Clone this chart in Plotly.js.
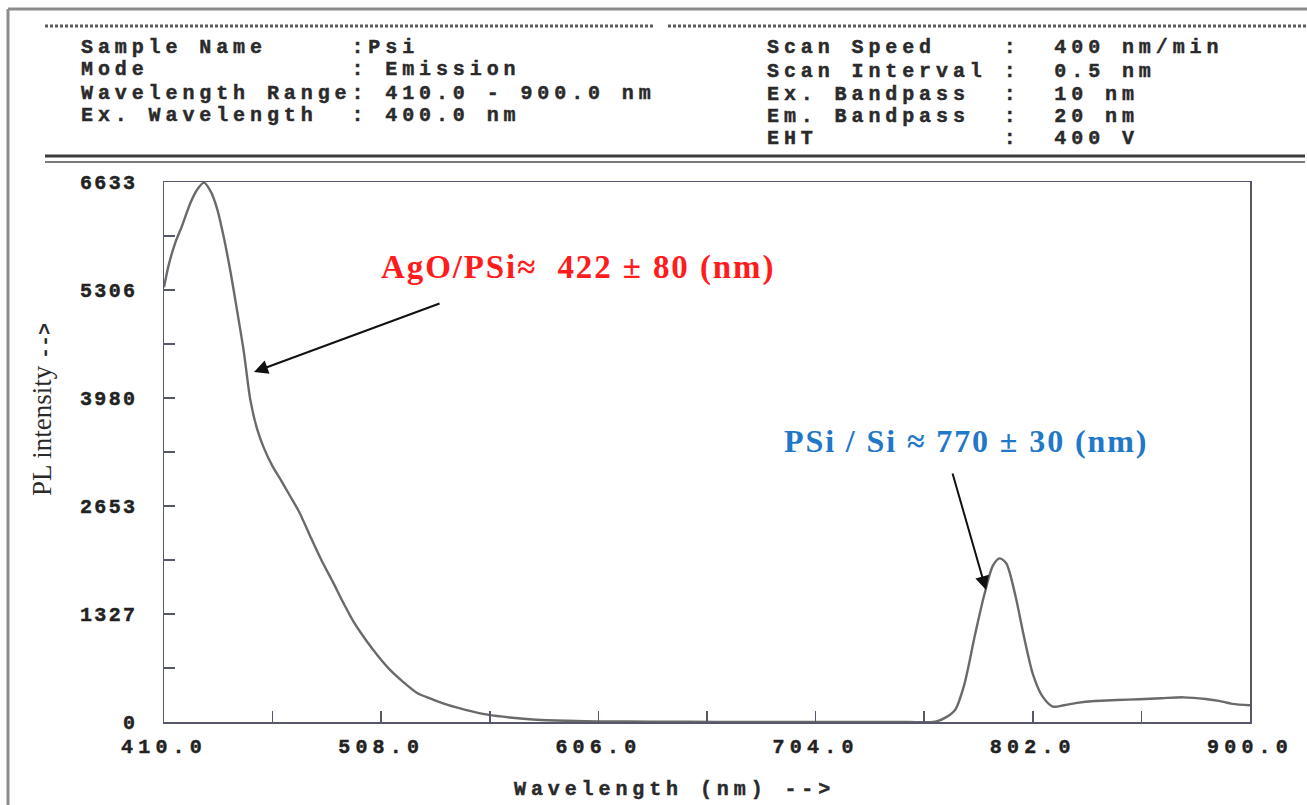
<!DOCTYPE html>
<html>
<head>
<meta charset="utf-8">
<script src="https://cdn.plot.ly/plotly-3.0.1.min.js"></script>
<style>
html, body { margin: 0; padding: 0; background: #ffffff; }
#chart { width: 1307px; height: 805px; }
.xtick text { letter-spacing: 5.2px; stroke: #222; stroke-width: 0.45px; }
.ytick text { letter-spacing: 2.4px; stroke: #222; stroke-width: 0.45px; }
text.annotation-text[style*="Liberation Mono"] { letter-spacing: 4.9px; stroke: #2a2a2a; stroke-width: 0.45px; }
text.annotation-text[style*="Times New Roman"] { letter-spacing: 1.9px; }
</style>
</head>
<body>
<div id="chart"></div>
<script>
// ---- data ----
const wavelength = [410, 412, 415, 418, 422, 425, 428, 431, 434, 437, 440, 443, 446, 449, 452, 455, 459, 463, 467, 471,
  476, 481, 486, 491, 496, 501, 506, 512, 518, 524, 530, 538, 546, 556, 566, 578, 592, 606, 630, 660,
  700, 740, 758, 763, 767, 771, 776, 780, 784, 787, 790, 794, 798, 802, 806, 811, 816, 822, 830, 840,
  850, 860, 870, 880, 886, 892, 900];
const intensity = [5340, 5600, 5880, 6084, 6380, 6540, 6625, 6520, 6300, 5950, 5530, 5050, 4550, 3950, 3600, 3370, 3140, 2960, 2770, 2580,
  2280, 1990, 1730, 1460, 1210, 1010, 830, 640, 490, 360, 290, 210, 150, 90, 55, 28, 15, 8, 4, 2,
  2, 2, 5, 60, 150, 450, 1080, 1550, 1920, 2010, 1950, 1570, 1050, 590, 330, 190, 205, 235, 258, 270,
  280, 292, 303, 283, 260, 222, 205];

const yTickVals = [0, 1326.6, 2653.2, 3979.8, 5306.4, 6633];
const yTickText = ['0', '1327', '2653', '3980', '5306', '6633'];
const xTickVals = [410, 508, 606, 704, 802, 900];
const xTickText = ['410.0', '508.0', '606.0', '704.0', '802.0', '900.0'];

const headerLeft = ['Sample Name     :Psi', 'Mode            : Emission', 'Wavelength Range: 410.0 - 900.0 nm', 'Ex. Wavelength  : 400.0 nm'];
const headerRight = ['Scan Speed    :  400 nm/min', 'Scan Interval :  0.5 nm', 'Ex. Bandpass  :  10 nm', 'Em. Bandpass  :  20 nm', 'EHT           :  400 V'];

const xTitle = 'Wavelength (nm) -->';
const yTitle = 'PL intensity';
const labelAgO = 'AgO/PSi\u2248  422 \u00b1 80 (nm)';
const labelPSi = 'PSi / Si \u2248 770 \u00b1 30 (nm)';

// ---- layout helpers (pixel -> paper) ----
const W = 1307, H = 805;
const L = 164, R = 1250, T = 182, B = 722;
const px = v => (v - L) / (R - L);
const py = v => (B - v) / (B - T);
const nb = s => s.replace(/ /g, '\u00a0').replace(/>/g, '&gt;');

const monoFont = { family: 'Liberation Mono, monospace', size: 20, weight: 'bold', color: '#2a2a2a' };

const annotations = [];
const leftRows = [48, 70, 93, 115];
headerLeft.forEach((t, i) => annotations.push({
  xref: 'paper', yref: 'paper', x: px(79), y: py(leftRows[i]), xanchor: 'left', yanchor: 'middle',
  text: nb(t), showarrow: false, font: monoFont, align: 'left'
}));
const rightRows = [48, 71, 94, 117, 139];
headerRight.forEach((t, i) => annotations.push({
  xref: 'paper', yref: 'paper', x: px(765), y: py(rightRows[i]), xanchor: 'left', yanchor: 'middle',
  text: nb(t), showarrow: false, font: monoFont, align: 'left'
}));
// x title
annotations.push({
  xref: 'paper', yref: 'paper', x: px(512), y: py(789), xanchor: 'left', yanchor: 'middle',
  text: nb(xTitle), showarrow: false, font: monoFont
});
// y title
annotations.push({
  xref: 'paper', yref: 'paper', x: px(42), y: py(410), xanchor: 'center', yanchor: 'middle',
  textangle: -90, showarrow: false,
  text: yTitle + ' <span style="font-family:Liberation Mono;font-weight:bold;font-size:20px">--&gt;</span>',
  font: { family: 'Liberation Serif, serif', size: 27, color: '#2a2a2a' }
});
// peak labels
const labelFamily = 'Liberation Serif, Times New Roman, serif';
annotations.push({
  xref: 'paper', yref: 'paper', x: px(578), y: py(267), xanchor: 'center', yanchor: 'middle',
  text: labelAgO, showarrow: false,
  font: { family: labelFamily, size: 33, weight: 'bold', color: '#ff1c1c' }
});
annotations.push({
  xref: 'paper', yref: 'paper', x: px(966), y: py(441), xanchor: 'center', yanchor: 'middle',
  text: labelPSi, showarrow: false,
  font: { family: labelFamily, size: 32, weight: 'bold', color: '#1f78c8' }
});
// arrows
annotations.push({
  xref: 'x', yref: 'y', x: 450.6, y: 4299, axref: 'x', ayref: 'y', ax: 535, ay: 5147,
  text: '', showarrow: true, arrowhead: 2, arrowsize: 1.4, arrowwidth: 2, arrowcolor: '#111', standoff: 0
});
annotations.push({
  xref: 'x', yref: 'y', x: 780.9, y: 1621, axref: 'x', ayref: 'y', ax: 765.6, ay: 3071,
  text: '', showarrow: true, arrowhead: 2, arrowsize: 1.4, arrowwidth: 2, arrowcolor: '#111', standoff: 0
});

const line = (x0, y0, x1, y1, color, width, dash) => ({
  type: 'line', xref: 'paper', yref: 'paper', x0: px(x0), y0: py(y0), x1: px(x1), y1: py(y1),
  line: { color: color, width: width, dash: dash || 'solid' }
});
const shapes = [
  line(8, 9, 1307, 9, '#8c8c8c', 3),
  line(8, 9, 8, 805, '#8c8c8c', 3),
  line(45, 26, 655, 26, '#5a5a5a', 3, '3px,2px'),
  line(668, 26, 1307, 26, '#5a5a5a', 3, '3px,2px'),
  line(45, 156, 1305, 156, '#3c3c3c', 3),
  line(45, 162, 1305, 162, '#7a7a7a', 2)
];

const tickFont = { family: 'Liberation Mono, monospace', size: 20, weight: 'bold', color: '#222' };
const axColor = '#55586a';

const trace = {
  type: 'scatter', mode: 'lines', x: wavelength, y: intensity,
  line: { color: '#6a6a6a', width: 2.4, shape: 'spline', smoothing: 0.8 },
  hoverinfo: 'skip'
};

const layout = {
  width: W, height: H,
  margin: { l: L, r: W - R, t: T, b: H - B, pad: 0 },
  paper_bgcolor: '#ffffff', plot_bgcolor: '#ffffff',
  showlegend: false,
  xaxis: {
    range: [410, 900], showgrid: false, zeroline: false,
    showline: true, mirror: true, linecolor: axColor, linewidth: 1.5,
    tickvals: xTickVals, ticktext: xTickText,
    ticks: 'inside', ticklen: 11, tickwidth: 1.5, tickcolor: axColor,
    tickfont: tickFont, ticklabelstandoff: 5,
    minor: { tick0: 410, dtick: 49, ticks: 'inside', ticklen: 11, tickwidth: 1.5, tickcolor: axColor }
  },
  yaxis: {
    range: [0, 6633], showgrid: false, zeroline: false,
    showline: true, mirror: true, linecolor: axColor, linewidth: 1.5,
    tickvals: yTickVals, ticktext: yTickText,
    ticks: 'inside', ticklen: 11, tickwidth: 1.5, tickcolor: axColor,
    tickfont: tickFont, ticklabelstandoff: 21,
    minor: { tick0: 0, dtick: 663.3, ticks: 'inside', ticklen: 11, tickwidth: 1.5, tickcolor: axColor }
  },
  annotations: annotations,
  shapes: shapes
};

Plotly.newPlot('chart', [trace], layout, { staticPlot: true, displayModeBar: false });
</script>
</body>
</html>
